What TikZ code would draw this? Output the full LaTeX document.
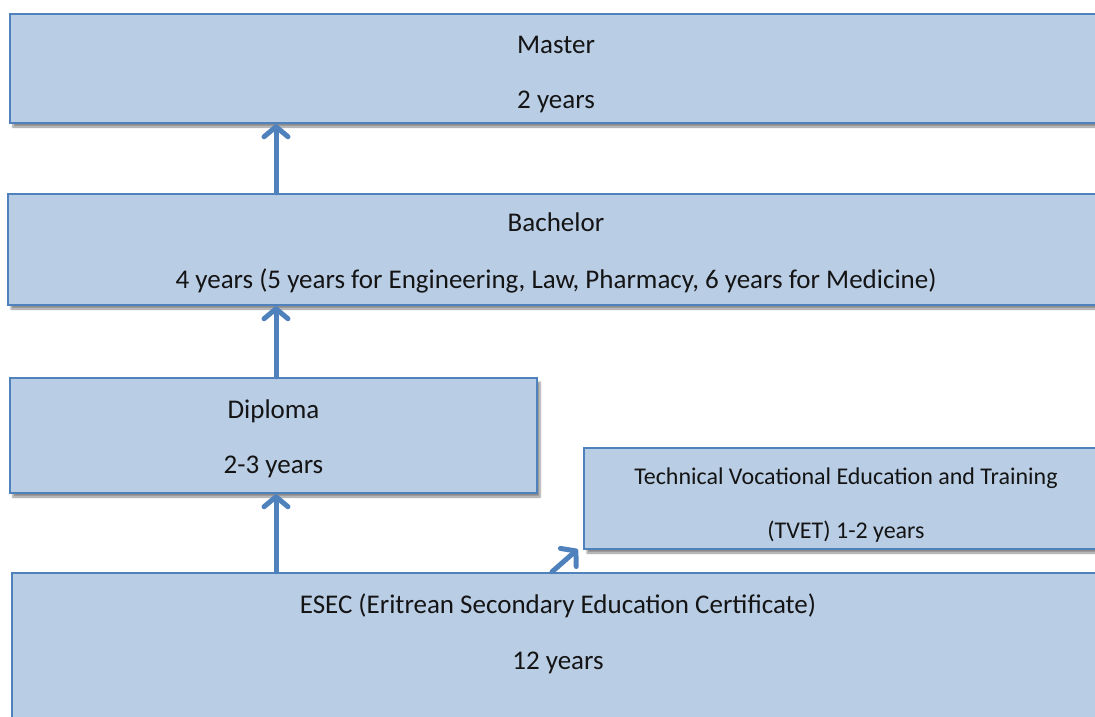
\documentclass[tikz,border=0pt]{standalone}
\usepackage{fontspec}
\setmainfont{Carlito}
\usetikzlibrary{arrows.meta,shadows.blur}
\definecolor{boxfill}{HTML}{B9CDE5}
\definecolor{boxline}{HTML}{4F81BD}
\definecolor{txt}{HTML}{141414}
\begin{document}
\begin{tikzpicture}[x=1pt,y=-1pt,
  box/.style={draw=boxline, line width=2.5pt, fill=boxfill, inner sep=0pt,
    blur shadow={shadow xshift=3pt,shadow yshift=-4pt,shadow blur steps=6,shadow opacity=45}},
  lbl/.style={text=txt, font=\fontsize{27}{55}\selectfont, align=center, inner sep=0pt},
  uparrow/.style={draw=boxline, line width=5pt, line cap=round,
    -{Straight Barb[length=10pt,width=24pt,round]}}]
\useasboundingbox (0,0) rectangle (1095,716);
\clip (0,0) rectangle (1095,716);
% boxes
\node[box, minimum width=1092, minimum height=109] (master) at (556,68.5) {};
\node[box, minimum width=1096, minimum height=111] (bachelor) at (556,249.5) {};
\node[box, minimum width=527, minimum height=115] (diploma) at (273.5,435.5) {};
\node[box, minimum width=524, minimum height=101] (tvet) at (846,498.5) {};
\node[box, minimum width=1092, minimum height=187] (esec) at (558,666.5) {};
% texts
\node[lbl] (mastertext) at (556,74.5) {Master\\2 years};
\node[lbl, font=\fontsize{27}{57}\selectfont] (bachelortext) at (556,252.5)
  {Bachelor\\4 years (5 years for Engineering, Law, Pharmacy, 6 years for Medicine)};
\node[lbl] (diplomatext) at (273.5,438.5) {Diploma\\2-3 years};
\node[lbl, font=\fontsize{24}{54}\selectfont] (tvettext) at (846,505.5)
  {Technical Vocational Education and Training\\(TVET) 1-2 years};
\node[lbl, font=\fontsize{27}{56}\selectfont] (esectext) at (558,634) {ESEC (Eritrean Secondary Education Certificate)\\12 years};
% connectors
\coordinate (ax) at (276,0);
\coordinate (dx) at (552,0);
\draw[uparrow] (bachelor.north -| ax) -- (master.south -| ax);
\draw[uparrow] (diploma.north -| ax) -- (bachelor.south -| ax);
\draw[uparrow] (esec.north -| ax) -- (diploma.south -| ax);
\draw[uparrow] (esec.north -| dx) -- ([xshift=-5pt,yshift=1pt]tvet.south west);
\end{tikzpicture}
\end{document}
